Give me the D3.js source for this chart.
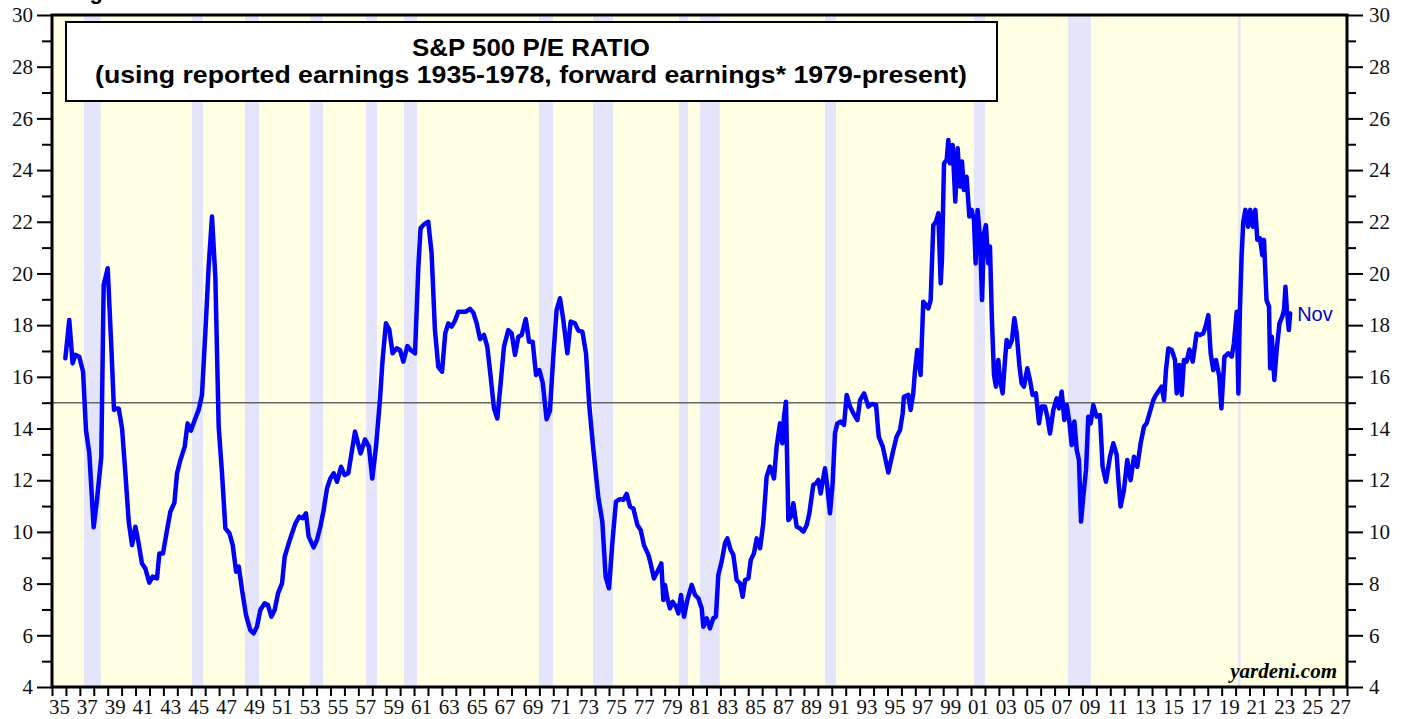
<!DOCTYPE html>
<html>
<head>
<meta charset="utf-8">
<script src="https://cdn.jsdelivr.net/npm/d3@7"></script>
<style>
  html, body { margin: 0; padding: 0; background: #ffffff; }
  svg { display: block; }
</style>
</head>
<body>
<svg id="chart" width="1407" height="719"></svg>
<script>
// ---------- DATA ----------
// Reported-earnings era (1935-1978): [decimal year, P/E]
const reportedYears = [1935.96,1936.24,1936.48,1936.68,1936.96,1937.23,1937.44,1937.68,1937.99,1938.23,1938.54,1938.71,1939.0,1939.26,1939.45,1939.6,1939.79,1940.03,1940.27,1940.51,1940.75,1940.99,1941.22,1941.46,1941.7,1941.99,1942.23,1942.54,1942.71,1942.97,1943.26,1943.5,1943.79,1943.98,1944.22,1944.53,1944.74,1944.98,1945.25,1945.53,1945.77,1946.01,1946.25,1946.49,1946.73,1946.97,1947.21,1947.45,1947.74,1947.98,1948.22,1948.41,1948.65,1948.93,1949.24,1949.48,1949.72,1949.96,1950.27,1950.51,1950.75,1950.99,1951.23,1951.52,1951.71,1952.0,1952.24,1952.48,1952.76,1953.0,1953.24,1953.43,1953.79,1954.03,1954.27,1954.51,1954.75,1954.99,1955.23,1955.47,1955.76,1956.02,1956.28,1956.76,1957.16,1957.48,1957.76,1958.0,1958.27,1958.55,1958.74,1958.98,1959.22,1959.46,1959.75,1959.99,1960.23,1960.52,1960.76,1961.07,1961.31,1961.47,1961.71,1962.02,1962.26,1962.5,1962.74,1963.01,1963.24,1963.46,1963.7,1963.94,1964.18,1964.42,1964.73,1965.02,1965.26,1965.5,1965.74,1966.02,1966.26,1966.5,1966.74,1966.98,1967.22,1967.46,1967.77,1968.01,1968.25,1968.49,1968.73,1969.02,1969.26,1969.52,1969.76,1970.0,1970.24,1970.52,1970.76,1971.0,1971.24,1971.48,1971.72,1972.01,1972.25,1972.56,1972.8,1973.09,1973.35,1973.59,1973.88,1974.23,1974.52,1974.76,1975.0,1975.26,1975.5,1975.79,1976.03,1976.27,1976.51,1976.75,1977.04,1977.28,1977.51,1977.83,1977.99,1978.23,1978.47,1978.76];
const reportedPE = [16.72,18.2,16.52,16.85,16.78,16.2,13.94,13.04,10.18,11.24,12.91,19.55,20.2,17.17,14.72,14.78,14.78,14.01,12.27,10.4,9.49,10.2,9.56,8.78,8.59,8.04,8.27,8.2,9.17,9.17,10.07,10.78,11.13,12.27,12.78,13.3,14.2,13.92,14.33,14.72,15.3,17.68,20.26,22.2,19.87,14.07,12.27,10.14,9.95,9.49,8.46,8.66,7.75,6.79,6.2,6.08,6.33,6.98,7.24,7.17,6.72,6.98,7.62,8.01,9.04,9.56,9.95,10.33,10.59,10.53,10.72,9.82,9.4,9.69,10.2,10.85,11.69,12.07,12.27,11.94,12.52,12.2,12.27,13.88,13.04,13.58,13.3,12.07,13.3,15.1,16.65,18.07,17.84,16.91,17.1,17.04,16.59,17.19,17.04,16.91,20.26,21.75,21.9,22.0,20.78,17.81,16.39,16.2,17.68,18.07,17.94,18.17,18.52,18.52,18.52,18.63,18.48,18.07,17.46,17.62,17.17,16.01,14.78,14.39,15.75,17.17,17.81,17.68,16.85,17.55,17.62,18.24,17.36,17.36,16.07,16.26,15.77,14.36,14.69,16.78,18.59,19.04,18.2,16.91,18.14,18.07,17.79,17.75,16.91,14.85,13.17,11.36,10.4,8.27,7.82,9.69,11.17,11.27,11.24,11.47,10.98,10.91,10.27,10.07,9.49,9.11,8.78,8.2,8.46,8.78];

// Forward-earnings era (1979-present)
const forwardYears = [1978.9,1979.02,1979.19,1979.38,1979.57,1979.81,1979.98,1980.17,1980.39,1980.63,1980.94,1981.18,1981.42,1981.66,1981.78,1982.02,1982.25,1982.49,1982.68,1982.85,1983.09,1983.33,1983.5,1983.74,1983.93,1984.17,1984.41,1984.6,1984.77,1985.01,1985.18,1985.41,1985.61,1985.85,1986.08,1986.32,1986.56,1986.85,1987.04,1987.28,1987.45,1987.57,1987.71,1987.88,1988.07,1988.24,1988.48,1988.72,1988.96,1989.2,1989.39,1989.67,1989.87,1990.03,1990.2,1990.51,1990.68,1990.87,1991.06,1991.23,1991.4,1991.64,1991.88,1992.07,1992.31,1992.55,1992.84,1993.03,1993.32,1993.63,1993.87,1994.18,1994.37,1994.66,1994.89,1995.06,1995.42,1995.66,1995.9,1996.09,1996.18,1996.49,1996.66,1996.85,1996.97,1997.14,1997.38,1997.57,1997.93,1998.1,1998.29,1998.48,1998.65,1998.82,1998.91,1999.06,1999.25,1999.37,1999.49,1999.68,1999.87,2000.04,2000.21,2000.35,2000.49,2000.68,2000.88,2001.04,2001.21,2001.33,2001.47,2001.64,2001.79,2001.93,2002.07,2002.24,2002.36,2002.5,2002.65,2002.79,2002.96,2003.08,2003.27,2003.44,2003.56,2003.75,2003.94,2004.11,2004.28,2004.47,2004.63,2004.8,2005.04,2005.23,2005.42,2005.66,2005.88,2006.07,2006.31,2006.48,2006.67,2006.91,2007.15,2007.32,2007.51,2007.7,2007.87,2008.06,2008.23,2008.42,2008.59,2008.75,2008.9,2009.06,2009.26,2009.42,2009.59,2009.78,2010.02,2010.26,2010.45,2010.69,2010.98,2011.22,2011.46,2011.6,2011.74,2011.98,2012.22,2012.46,2012.7,2012.94,2013.18,2013.42,2013.61,2013.85,2014.09,2014.28,2014.52,2014.69,2014.86,2015.0,2015.17,2015.41,2015.65,2015.77,2015.96,2016.13,2016.29,2016.48,2016.68,2016.92,2017.2,2017.44,2017.68,2017.87,2018.04,2018.21,2018.4,2018.59,2018.83,2018.98,2019.2,2019.48,2019.72,2019.88,2020.08,2020.2,2020.31,2020.43,2020.55,2020.7,2020.9,2021.05,2021.25,2021.42,2021.56,2021.75,2021.92,2022.04,2022.22,2022.4,2022.48,2022.6,2022.78,2022.95,2023.15,2023.35,2023.48,2023.58,2023.68,2023.82,2023.92];
const forwardPE = [7.37,7.95,7.43,7.04,7.3,7.11,6.85,7.56,6.72,7.37,7.95,7.56,7.43,7.04,6.33,6.66,6.27,6.66,6.72,8.33,8.85,9.56,9.75,9.3,9.11,8.14,8.01,7.49,8.14,8.2,8.91,9.17,9.75,9.37,10.33,12.14,12.53,12.07,13.3,14.2,13.43,14.46,15.04,10.46,10.59,11.11,10.2,10.14,10.01,10.27,10.72,11.82,11.88,12.01,11.49,12.46,11.75,10.72,11.88,13.82,14.2,14.27,14.14,15.3,14.85,14.59,14.33,15.1,15.36,14.85,14.95,14.91,13.69,13.3,12.72,12.3,13.17,13.69,13.94,14.59,15.23,15.3,14.72,15.36,16.2,17.04,16.07,18.91,18.65,18.97,21.87,22.0,22.33,19.62,20.52,24.26,24.39,25.16,24.26,24.97,22.78,24.84,23.36,24.33,23.23,23.74,22.2,22.46,22.07,20.39,22.46,21.42,18.97,21.55,21.87,20.39,21.04,18.2,16.07,15.62,16.65,15.88,15.36,16.65,17.43,17.17,17.43,18.27,17.68,16.46,15.75,15.62,16.33,15.88,15.3,15.36,14.2,14.85,14.85,14.46,13.81,14.72,15.17,14.78,15.43,14.33,14.91,14.27,13.36,14.27,13.17,12.78,10.4,11.36,12.4,14.46,14.2,14.91,14.46,14.52,12.52,11.94,12.91,13.43,12.98,11.88,10.98,11.62,12.78,12.0,12.91,12.52,13.43,14.07,14.2,14.65,15.1,15.3,15.49,15.62,15.1,16.26,17.1,17.04,16.65,15.36,16.46,15.3,16.65,16.59,17.06,16.59,17.68,17.62,17.68,18.0,18.39,16.91,16.26,16.65,16.01,14.78,16.78,16.91,16.78,17.3,18.52,15.36,18.59,20.65,22.0,22.46,21.81,22.46,21.81,22.46,21.3,21.36,20.71,21.3,18.97,18.72,16.33,17.55,15.88,17.04,18.07,18.33,18.59,19.49,18.59,17.81,18.45];

// Recession periods (decimal years)
const recessionStart = [1937.3,1945.06,1948.86,1953.53,1957.55,1960.28,1969.97,1973.85,1980.03,1981.53,1990.51,2001.21,2007.96,2020.19];
const recessionEnd   = [1938.5,1945.85,1949.87,1954.46,1958.34,1961.21,1970.98,1975.29,1980.67,1982.95,1991.3,2002.0,2009.6,2020.36];

// Axis tick values
const yMajorTicks = [4,6,8,10,12,14,16,18,20,22,24,26,28,30];
const yMinorTicks = [5,7,9,11,13,15,17,19,21,23,25,27,29];
const xYearTicks = d3.range(1935, 2029);
const xLabelYears = d3.range(1935, 2028, 2);
const referenceLevel = 15;
const lastLabel = "Nov";

// ---------- LAYOUT ----------
const svg = d3.select("#chart");
const L = 52, R = 1347, T = 15, B = 687;
const x = d3.scaleLinear().domain([1935, 2028]).range([L, R]);
const y = d3.scaleLinear().domain([4, 30]).range([B, T]);

const serif = "'Liberation Serif','Times New Roman',serif";
const sans = "'Liberation Sans',Arial,Helvetica,sans-serif";

// figure heading, cut off at the top edge as in the original
svg.append("text").attr("x", 70).attr("y", -1)
  .attr("font-family", sans).attr("font-weight", "bold").attr("font-size", 22)
  .text("Figure 1.");

// plot background
svg.append("rect").attr("x", L).attr("y", T).attr("width", R - L).attr("height", B - T)
  .attr("fill", "#ffffe3");

// recession bands
svg.append("g").selectAll("rect").data(recessionStart.map((s, i) => [s, recessionEnd[i]]))
  .join("rect")
  .attr("x", d => x(d[0])).attr("width", d => x(d[1]) - x(d[0]))
  .attr("y", T).attr("height", B - T)
  .attr("fill", "#e4e4fb");

// reference line at 15
svg.append("line").attr("x1", L).attr("x2", R)
  .attr("y1", y(referenceLevel)).attr("y2", y(referenceLevel))
  .attr("stroke", "#666666").attr("stroke-width", 1.5);

// data line
const data = reportedYears.map((t, i) => [t, reportedPE[i]])
  .concat(forwardYears.map((t, i) => [t, forwardPE[i]]));
svg.append("clipPath").attr("id", "clip").append("rect")
  .attr("x", L).attr("y", T).attr("width", R - L).attr("height", B - T);
svg.append("path").datum(data)
  .attr("clip-path", "url(#clip)")
  .attr("fill", "none").attr("stroke", "#0000ff").attr("stroke-width", 4.5)
  .attr("stroke-linejoin", "round").attr("stroke-linecap", "round")
  .attr("d", d3.line().x(d => x(d[0])).y(d => y(d[1])));

// last value label
const last = data[data.length - 1];
svg.append("text").attr("x", x(last[0]) + 7).attr("y", y(last[1]) + 7)
  .attr("font-family", sans).attr("font-size", 20).attr("fill", "#0000cc")
  .text(lastLabel);

// title box
svg.append("rect").attr("x", 66).attr("y", 22).attr("width", 931).attr("height", 79)
  .attr("fill", "#ffffff").attr("stroke", "#000").attr("stroke-width", 2);
svg.append("text").attr("x", 531).attr("y", 55.5).attr("text-anchor", "middle")
  .attr("font-family", sans).attr("font-weight", "bold").attr("font-size", 24)
  .attr("textLength", 238).attr("lengthAdjust", "spacingAndGlyphs")
  .text("S&P 500 P/E RATIO");
svg.append("text").attr("x", 531).attr("y", 83).attr("text-anchor", "middle")
  .attr("font-family", sans).attr("font-weight", "bold").attr("font-size", 24)
  .attr("textLength", 872).attr("lengthAdjust", "spacingAndGlyphs")
  .text("(using reported earnings 1935-1978, forward earnings* 1979-present)");

// source
svg.append("text").attr("x", 1337).attr("y", 678).attr("text-anchor", "end")
  .attr("font-family", serif).attr("font-weight", "bold").attr("font-style", "italic")
  .attr("font-size", 21).text("yardeni.com");

// ---------- AXES ----------
function styleAxis(g) {
  g.select(".domain").remove();
  g.selectAll(".tick line").attr("stroke", "#000").attr("stroke-width", 2);
  g.selectAll("text").attr("font-family", serif).attr("font-size", 21).attr("fill", "#111");
}
// left
svg.append("g").attr("transform", `translate(${L},0)`)
  .call(d3.axisLeft(y).tickValues(yMajorTicks).tickSize(15).tickPadding(4).tickFormat(d3.format("d")))
  .call(styleAxis);
svg.append("g").attr("transform", `translate(${L},0)`)
  .call(d3.axisLeft(y).tickValues(yMinorTicks).tickSize(10).tickFormat(""))
  .call(styleAxis);
// right
svg.append("g").attr("transform", `translate(${R},0)`)
  .call(d3.axisRight(y).tickValues(yMajorTicks).tickSize(16).tickPadding(6).tickFormat(d3.format("d")))
  .call(styleAxis);
svg.append("g").attr("transform", `translate(${R},0)`)
  .call(d3.axisRight(y).tickValues(yMinorTicks).tickSize(9).tickFormat(""))
  .call(styleAxis);
// bottom ticks
svg.append("g").attr("transform", `translate(0,${B})`)
  .call(d3.axisBottom(x).tickValues(xYearTicks).tickSize(9).tickFormat(""))
  .call(styleAxis);
// bottom labels, centred in each year
const labelAxis = svg.append("g").attr("transform", `translate(0,${B})`)
  .call(d3.axisBottom(x).tickValues(xLabelYears.map(v => v + 0.5)).tickSize(0)
    .tickFormat(d => String(Math.floor(d) % 100).padStart(2, "0")))
  .call(styleAxis);
labelAxis.selectAll("text").attr("y", 27).attr("dy", 0);

// frame
svg.append("rect").attr("x", L).attr("y", T).attr("width", R - L).attr("height", B - T)
  .attr("fill", "none").attr("stroke", "#000").attr("stroke-width", 3);
</script>
</body>
</html>
